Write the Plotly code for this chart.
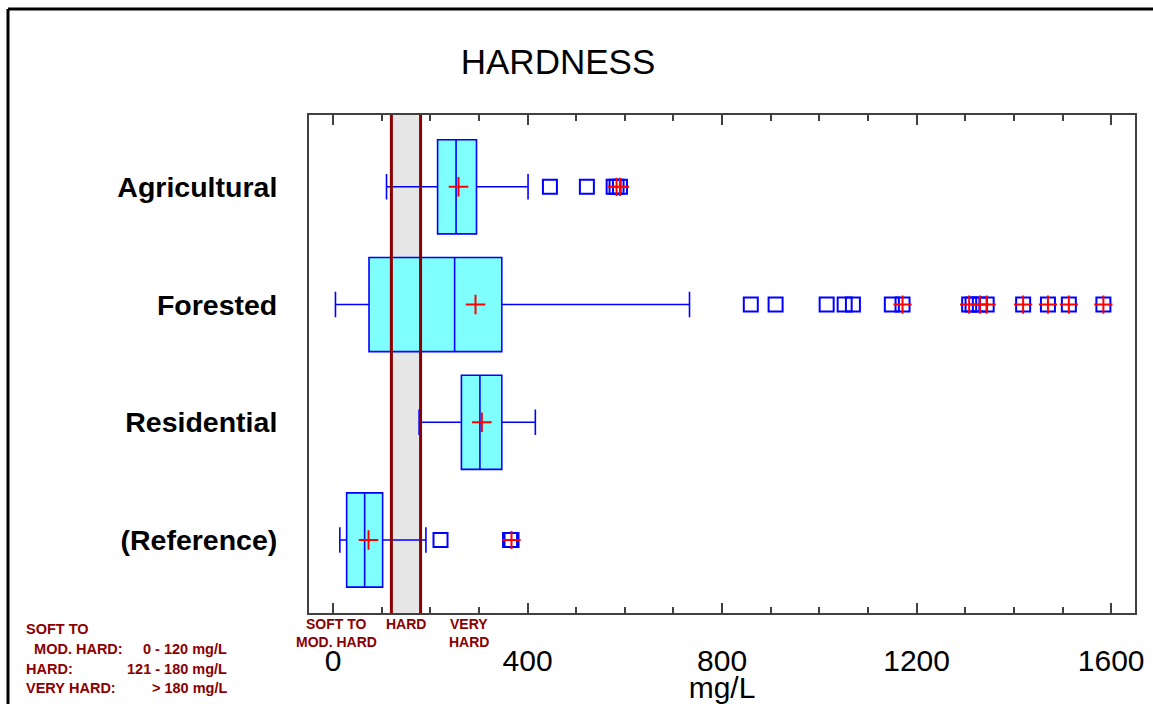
import plotly.graph_objects as go

# ---------------- data ----------------
categories = ['Agricultural', 'Forested', 'Residential', '(Reference)']
lower_whisker = [110, 5, 177, 14]
q1 = [215, 74, 264, 28]
median = [253, 250, 302, 65]
q3 = [295, 347, 347, 102]
upper_whisker = [401, 733, 416, 191]
mean = [258, 293, 306, 73]

outliers = {
    'Agricultural': [446, 522, 577],
    'Forested': [859, 910, 1015, 1052, 1069, 1149, 1315],
    'Residential': [],
    '(Reference)': [221, 364],
}
extremes = {
    'Agricultural': [583, 590],
    'Forested': [1171, 1308, 1330, 1344, 1419, 1470, 1513, 1584],
    'Residential': [],
    '(Reference)': [367],
}

x_ticks = [0, 400, 800, 1200, 1600]
hard_low, hard_high = 120, 180
class_label_lines = [('SOFT TO', 'MOD. HARD', 8), ('HARD', '', 150), ('VERY', 'HARD', 280)]
legend_left = ['SOFT TO', '  MOD. HARD:', 'HARD:', 'VERY HARD:']
legend_right = ['', '0 - 120 mg/L', '121 - 180 mg/L', '> 180 mg/L']

# ---------------- style ----------------
BLUE = '#0000ff'
CYAN = '#80ffff'
RED = '#ff0000'
DARKRED = '#8b0000'
FONT = 'Liberation Sans, Arial, sans-serif'

W, H = 1153, 704
L, R, T, B = 309, 18, 115, 91
pw, ph = W - L - R, H - T - B


def px_x(p):
    return (p - L) / pw


def px_y(p):
    return (H - B - p) / ph


fig = go.Figure()

fig.add_trace(go.Box(
    y=categories, q1=q1, median=median, q3=q3,
    lowerfence=lower_whisker, upperfence=upper_whisker,
    orientation='h', boxpoints=False, width=0.8, whiskerwidth=0.27,
    fillcolor=CYAN, line=dict(color=BLUE, width=1.6), showlegend=False,
    hoverinfo='x',
))

# outliers (open squares)
ox, oy = [], []
for c in categories:
    for v in outliers[c] + extremes[c]:
        ox.append(v)
        oy.append(c)
fig.add_trace(go.Scatter(
    x=ox, y=oy, mode='markers', showlegend=False,
    marker=dict(symbol='square-open', size=14, color=BLUE, line=dict(width=2, color=BLUE)),
))

# extreme markers (red plus inside square)
ex, ey = [], []
for c in categories:
    for v in extremes[c]:
        ex.append(v)
        ey.append(c)
fig.add_trace(go.Scatter(
    x=ex, y=ey, mode='markers', showlegend=False,
    marker=dict(symbol='cross-thin-open', size=13, color=RED, line=dict(width=2, color=RED)),
))

# means
fig.add_trace(go.Scatter(
    x=mean, y=categories, mode='markers', showlegend=False,
    marker=dict(symbol='cross-thin-open', size=14, color=RED, line=dict(width=2, color=RED)),
))

shapes = [
    dict(type='rect', xref='x', yref='paper', x0=hard_low, x1=hard_high, y0=0, y1=1,
         fillcolor='#e6e6e6', line=dict(width=0), layer='below'),
    dict(type='line', xref='x', yref='paper', x0=hard_low, x1=hard_low, y0=0, y1=1,
         line=dict(color=DARKRED, width=3), layer='above'),
    dict(type='line', xref='x', yref='paper', x0=hard_high, x1=hard_high, y0=0, y1=1,
         line=dict(color=DARKRED, width=3), layer='above'),
    # outer frame (top and left)
    dict(type='line', xref='paper', yref='paper', x0=px_x(8), x1=px_x(1160), y0=px_y(9), y1=px_y(9),
         line=dict(color='black', width=3)),
    dict(type='line', xref='paper', yref='paper', x0=px_x(8), x1=px_x(8), y0=px_y(9), y1=px_y(710),
         line=dict(color='black', width=3)),
]

annotations = []
for line1, line2, xv in class_label_lines:
    for text, yy in ((line1, 623), (line2, 641.5)):
        if text:
            annotations.append(dict(
                x=xv, xref='x', y=px_y(yy), yref='paper', yanchor='middle', xanchor='center',
                text=text, showarrow=False, align='center', height=15,
                font=dict(family=FONT, size=14, color=DARKRED, weight='bold'),
            ))

row_y = [629, 649, 668.5, 688]
for i, (lt, rt) in enumerate(zip(legend_left, legend_right)):
    annotations.append(dict(
        x=px_x(24), xref='paper', y=px_y(row_y[i]), yref='paper', xanchor='left', yanchor='middle',
        text=lt.replace(' ', '&nbsp;'), showarrow=False,
        font=dict(family=FONT, size=14.5, color=DARKRED, weight='bold'),
    ))
    if rt:
        annotations.append(dict(
            x=px_x(229), xref='paper', y=px_y(row_y[i]), yref='paper', xanchor='right', yanchor='middle',
            text=rt, showarrow=False,
            font=dict(family=FONT, size=14.5, color=DARKRED, weight='bold'),
        ))

fig.update_layout(
    width=W, height=H,
    margin=dict(l=L, r=R, t=T, b=B, autoexpand=False),
    paper_bgcolor='white', plot_bgcolor='white',
    boxmode='overlay',
    title=dict(text='HARDNESS', x=558 / W, xref='container', xanchor='center',
               y=1 - 62 / H, yref='container', yanchor='middle',
               font=dict(family=FONT, size=35, color='black')),
    shapes=shapes,
    annotations=annotations,
    xaxis=dict(
        range=[-49.4, 1649], tickvals=x_ticks, ticks='inside', ticklen=10, tickwidth=2,
        tickcolor='#404040', showgrid=False, zeroline=False, automargin=False,
        showline=True, linecolor='#404040', linewidth=2, mirror='ticks',
        minor=dict(dtick=100, ticks='inside', ticklen=6, tickwidth=2, tickcolor='#404040', showgrid=False),
        tickfont=dict(family=FONT, size=30, color='black'),
        ticklabelstandoff=20,
        title=dict(text='mg/L', standoff=0, font=dict(family=FONT, size=30, color='black')),
    ),
    yaxis=dict(
        type='category', categoryorder='array', categoryarray=categories[::-1],
        range=[-0.62, 3.61], showgrid=False, zeroline=False, ticks='', automargin=False,
        showline=True, linecolor='#404040', linewidth=2, mirror=True,
        tickfont=dict(family=FONT, size=28.5, color='black', weight='bold'),
        ticklabelstandoff=24,
    ),
)

fig.write_html('out.html')
